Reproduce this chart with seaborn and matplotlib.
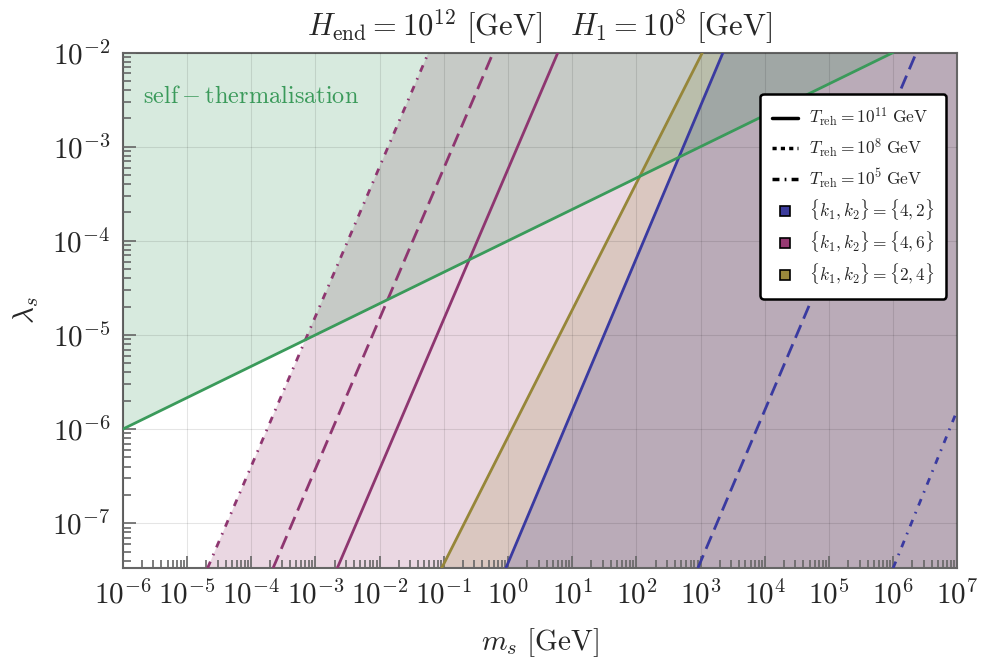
import numpy as np
import matplotlib.pyplot as plt
import matplotlib.ticker as mticker
from matplotlib.lines import Line2D
import seaborn as sns
import pandas as pd

sns.set_style("white")
plt.rcParams['mathtext.fontset'] = 'cm'
plt.rcParams['font.family'] = ['DejaVu Serif']

# axis ranges
m_lim = [1e-6, 1e7]
lam_lim = [3.35e-8, 1e-2]

# self-thermalisation boundary (read at the two ends)
green_m = [1e-6, 1e6]
green_lam = [1e-6, 1e-2]

# each line: masses where it crosses the bottom / top of the frame
lam_ends = [3.35e-8, 1e-2]
purple_m = {'11': [2.2e-3, 6.0], '8': [2.2e-4, 0.59], '5': [2.1e-5, 5.8e-2]}
blue_m = {'11': [0.93, 2240.0], '8': [910.0, 2.3e6]}
# blue 10^5 line leaves through the right edge
blue5_m = [1.0e6, 1e7]
blue5_lam = [3.35e-8, 1.6e-6]
olive_m = [0.093, 1070.0]

c_blue = '#3c3c9c'
c_purple = '#963a72'
c_olive = '#9a8a3c'
c_green = '#3a9a5a'
line_blue = '#3a3aa0'
line_purple = '#8e3670'
line_olive = '#968639'

dash = (0, (5, 2.5))
dashdot = (0, (2.5, 2.5, 0.6, 2.5))
styles = {'11': '-', '8': dash, '5': dashdot}

fig, ax = plt.subplots(figsize=(9.96, 6.70), dpi=100)
fig.subplots_adjust(left=0.1232, right=0.9612, top=0.9216, bottom=0.1522)
ax.set_xscale('log')
ax.set_yscale('log')
ax.set_xlim(*m_lim)
ax.set_ylim(*lam_lim)

# shaded regions (right of the leftmost line of each family)
fa = 0.2
ax.fill([purple_m['5'][0], purple_m['5'][1], m_lim[1], m_lim[1]],
        [lam_ends[0], lam_ends[1], lam_ends[1], lam_ends[0]],
        color=c_purple, alpha=fa, lw=0, zorder=1)
ax.fill([olive_m[0], olive_m[1], m_lim[1], m_lim[1]],
        [lam_ends[0], lam_ends[1], lam_ends[1], lam_ends[0]],
        color=c_olive, alpha=fa, lw=0, zorder=1)
ax.fill([blue_m['11'][0], blue_m['11'][1], m_lim[1], m_lim[1]],
        [lam_ends[0], lam_ends[1], lam_ends[1], lam_ends[0]],
        color=c_blue, alpha=fa, lw=0, zorder=1)
ax.fill([green_m[0], green_m[1], green_m[0]],
        [green_lam[0], green_lam[1], green_lam[1]],
        color=c_green, alpha=fa, lw=0, zorder=1)

ax.grid(True, which='major', color='black', alpha=0.1, lw=0.8)
ax.set_axisbelow(False)

lw = 2.0
for key, mm in purple_m.items():
    df = pd.DataFrame({'m': mm, 'lam': lam_ends})
    sns.lineplot(data=df, x='m', y='lam', ax=ax, color=line_purple, lw=lw,
                 linestyle=styles[key], zorder=3)
for key, mm in blue_m.items():
    df = pd.DataFrame({'m': mm, 'lam': lam_ends})
    sns.lineplot(data=df, x='m', y='lam', ax=ax, color=line_blue, lw=lw,
                 linestyle=styles[key], zorder=3)
sns.lineplot(x=blue5_m, y=blue5_lam, ax=ax, color=line_blue, lw=lw,
             linestyle=dashdot, zorder=3)
sns.lineplot(x=olive_m, y=lam_ends, ax=ax, color=line_olive, lw=lw, zorder=3)
sns.lineplot(x=green_m, y=green_lam, ax=ax, color=c_green, lw=lw, zorder=3)

ax.text(2.1e-6, 3.4e-3, r'$\mathrm{self}-\mathrm{thermalisation}$',
        color=c_green, fontsize=17.5, va='center', ha='left')

# axes cosmetics
for s in ax.spines.values():
    s.set_color('#666666')
    s.set_linewidth(1.5)
fmt = mticker.FuncFormatter(lambda v, p: r'$10^{%d}$' % round(np.log10(v)))
ax.xaxis.set_major_locator(mticker.LogLocator(base=10, numticks=20))
ax.yaxis.set_major_locator(mticker.LogLocator(base=10, numticks=20))
ax.xaxis.set_minor_locator(mticker.LogLocator(base=10, subs=np.arange(2, 10), numticks=20))
ax.yaxis.set_minor_locator(mticker.LogLocator(base=10, subs=np.arange(2, 10), numticks=20))
ax.xaxis.set_major_formatter(fmt)
ax.yaxis.set_major_formatter(fmt)
ax.xaxis.set_minor_formatter(mticker.NullFormatter())
ax.yaxis.set_minor_formatter(mticker.NullFormatter())
ax.tick_params(which='both', direction='in', color='#666666', width=1.2,
               bottom=True, left=True, top=False, right=False, labelsize=21)
ax.tick_params(which='major', length=9, pad=9)
ax.tick_params(which='minor', length=6)

ax.set_xlabel(r'$m_s\ [\mathrm{GeV}]$', fontsize=21, labelpad=12)
ax.set_ylabel(r'$\lambda_s$', fontsize=21, labelpad=8)
ax.set_title(r'$H_{\mathrm{end}}=10^{12}\ [\mathrm{GeV}]\quad H_1=10^{8}\ [\mathrm{GeV}]$',
             fontsize=22, pad=12)

handles = [
    Line2D([], [], color='black', lw=2.5, linestyle='-'),
    Line2D([], [], color='black', lw=2.5, linestyle=(0, (1.2, 1.2))),
    Line2D([], [], color='black', lw=2.5, linestyle=(0, (2, 1.5, 0.5, 1.5))),
    Line2D([], [], color=c_blue, marker='s', markersize=7.5, markeredgecolor='black',
           markeredgewidth=1.2, linestyle='none'),
    Line2D([], [], color=c_purple, marker='s', markersize=7.5, markeredgecolor='black',
           markeredgewidth=1.2, linestyle='none'),
    Line2D([], [], color=c_olive, marker='s', markersize=7.5, markeredgecolor='black',
           markeredgewidth=1.2, linestyle='none'),
]
labels = [r'$T_{\mathrm{reh}}=10^{11}\;\mathrm{GeV}$',
          r'$T_{\mathrm{reh}}=10^{8}\;\mathrm{GeV}$',
          r'$T_{\mathrm{reh}}=10^{5}\;\mathrm{GeV}$',
          r'$\{k_1,k_2\}=\{4,2\}$',
          r'$\{k_1,k_2\}=\{4,6\}$',
          r'$\{k_1,k_2\}=\{2,4\}$']
leg = ax.legend(handles, labels, loc='upper left', bbox_to_anchor=(0.7636, 0.9195),
                borderaxespad=0, fontsize=12.5, frameon=True, fancybox=True,
                framealpha=1, edgecolor='black', labelspacing=0.42,
                handlelength=1.5, borderpad=0.7, handletextpad=0.6)
leg.get_frame().set_linewidth(1.8)
leg.set_zorder(5)

plt.savefig('out.png', dpi=100)
